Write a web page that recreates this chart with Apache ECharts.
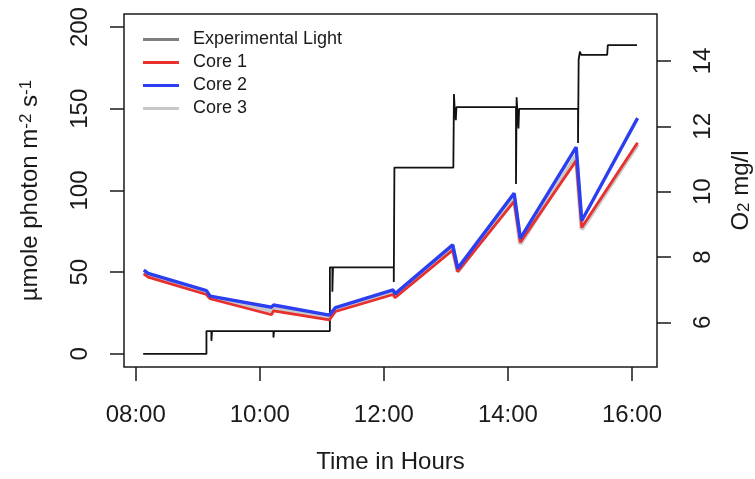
<!DOCTYPE html>
<html>
<head>
<meta charset="UTF-8">
<title>Experimental light and O2</title>
<script type="text/javascript" src="https://cdn.jsdelivr.net/npm/echarts@6/dist/echarts.min.js"></script>
</head>
<body style="margin:0">
<div id="main" style="width:755px;height:479px"></div>
<script type="text/javascript">
// experimental light, step line (time in hours, umole photon m-2 s-1)
var lightTime  = [8.12, 9.14, 9.14, 9.22, 9.22, 9.23, 10.22, 10.22, 10.23, 11.13, 11.13, 11.17, 11.17, 11.18,
                  12.16, 12.16, 12.17, 13.12, 13.13, 13.14, 13.16, 13.16, 13.17, 14.13, 14.13, 14.14, 14.15,
                  14.17, 14.17, 14.18, 15.13, 15.13, 15.14, 15.16, 15.18, 15.60, 15.61, 16.08];
var lightLevel = [0, 0, 14, 14, 8, 14, 14, 10, 14, 14, 53, 53, 38, 53,
                  53, 44, 114, 114, 159, 151, 151, 143, 151, 151, 104, 157, 150,
                  150, 138, 150, 150, 129, 180, 185, 183, 183, 189, 189];

// O2 cores (time in hours, mg/l)
var o2Time = [8.13, 8.20, 9.14, 9.20, 10.19, 10.22, 11.12, 11.15, 11.22, 12.15, 12.18, 13.11, 13.19, 14.10, 14.20, 15.10, 15.19, 16.09];
var core1 = [7.48, 7.38, 6.85, 6.72, 6.23, 6.35, 6.07, 6.03, 6.33, 6.85, 6.75, 8.21, 7.55, 9.70, 8.45, 10.95, 8.90, 11.50];
var core2 = [7.60, 7.50, 6.97, 6.80, 6.46, 6.53, 6.22, 6.18, 6.45, 6.99, 6.87, 8.37, 7.65, 9.95, 8.57, 11.36, 9.11, 12.25];
var core3 = [7.53, 7.44, 6.90, 6.76, 6.33, 6.43, 6.14, 6.10, 6.38, 6.90, 6.80, 8.27, 7.55, 9.80, 8.40, 11.10, 8.85, 11.45];

var xTicks = [8, 10, 12, 14, 16];
var lightTicks = [0, 50, 100, 150, 200];
var o2Ticks = [6, 8, 10, 12, 14];

function pairs(xs, ys) {
	return xs.map(function(x, i){ return [x, ys[i]]; });
}

var myEcharts = echarts.init(document.getElementById('main'));
var font = 'Liberation Sans, Arial, sans-serif';
var ink = '#1a1a1a';

var option = {
	animation: false,
	textStyle: { fontFamily: font, color: ink },
	grid: {
		left: 124, right: 98, top: 14, bottom: 112, outerBoundsMode: 'none',
		show: true, borderColor: ink, borderWidth: 1.5, backgroundColor: '#fff'
	},
	legend: {
		orient: 'vertical', left: 138, top: 23,
		icon: 'rect', itemWidth: 36, itemHeight: 3, itemGap: 0,
		textStyle: { fontSize: 18, lineHeight: 23, color: ink, padding: [0, 0, 0, 9] },
		data: [
			{ name: 'Experimental Light', itemStyle: { color: '#7f7f7f' } },
			'Core 1', 'Core 2', 'Core 3'
		]
	},
	xAxis: {
		type: 'value', min: 7.811, max: 16.403,
		name: 'Time in Hours', nameLocation: 'middle', nameGap: 83,
		nameTextStyle: { fontSize: 24, color: ink },
		axisLine: { show: false, onZero: false },
		splitLine: { show: false },
		axisTick: { show: true, customValues: xTicks, length: 14, lineStyle: { color: ink, width: 1.5 } },
		axisLabel: {
			customValues: xTicks, fontSize: 24, color: ink, margin: 36,
			formatter: function(v){ var h = Math.round(v); return (h < 10 ? '0' : '') + h + ':00'; }
		}
	},
	yAxis: [
		{
			type: 'value', min: -8, max: 208, position: 'left',
			name: '{t|\u00b5mole photon m}{s|-2}{t| s}{s|-1}', nameLocation: 'middle', nameGap: 82, nameRotate: 90,
			nameTextStyle: { rich: { t: { fontSize: 24, color: ink, fontFamily: font }, s: { fontSize: 17, color: ink, fontFamily: font, verticalAlign: 'top' } } },
			axisLine: { show: false, onZero: false },
			splitLine: { show: false },
			axisTick: { show: true, customValues: lightTicks, length: 14, lineStyle: { color: ink, width: 1.5 } },
			axisLabel: { customValues: lightTicks, fontSize: 24, color: ink, rotate: 90, margin: 32 }
		},
		{
			type: 'value', min: 4.63, max: 15.44, position: 'right',
			name: '{t|O}{b|2}{t| mg/l}', nameLocation: 'middle', nameGap: 72, nameRotate: 90,
			nameTextStyle: { rich: { t: { fontSize: 24, color: ink, fontFamily: font }, b: { fontSize: 17, color: ink, fontFamily: font, verticalAlign: 'bottom' } } },
			axisLine: { show: false, onZero: false },
			splitLine: { show: false },
			axisTick: { show: true, customValues: o2Ticks, length: 14, lineStyle: { color: ink, width: 1.5 } },
			axisLabel: { customValues: o2Ticks, fontSize: 24, color: ink, rotate: 90, margin: 34 }
		}
	],
	series: [
		{
			name: 'Experimental Light', type: 'line', yAxisIndex: 0, symbol: 'none', z: 3,
			color: '#111', lineStyle: { width: 1.8 },
			data: pairs(lightTime, lightLevel)
		},
		{
			name: 'Core 3', type: 'line', yAxisIndex: 1, symbol: 'none', z: 4,
			color: '#c8c8c8', lineStyle: { width: 4.5 },
			data: pairs(o2Time, core3)
		},
		{
			name: 'Core 1', type: 'line', yAxisIndex: 1, symbol: 'none', z: 5,
			color: '#e8302c', lineStyle: { width: 2.8 },
			data: pairs(o2Time, core1)
		},
		{
			name: 'Core 2', type: 'line', yAxisIndex: 1, symbol: 'none', z: 6,
			color: '#2b3ff0', lineStyle: { width: 3.4 },
			data: pairs(o2Time, core2)
		}
	]
};
myEcharts.setOption(option);
</script>
</body>
</html>
